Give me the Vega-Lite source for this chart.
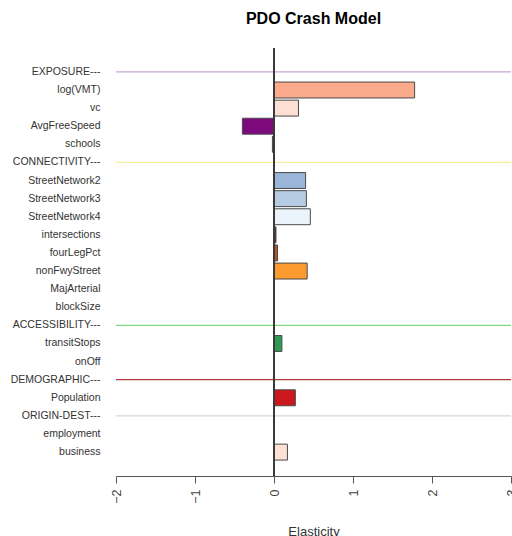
{
  "$schema": "https://vega.github.io/schema/vega-lite/v6.json",
  "width": 395,
  "height": 428,
  "autosize": {"type": "none"},
  "padding": {"left": 116, "top": 48, "right": 1, "bottom": 60},
  "background": "white",
  "config": {
    "view": {"stroke": null},
    "font": "Liberation Sans"
  },
  "title": {
    "text": "PDO Crash Model",
    "font": "Liberation Sans",
    "fontSize": 16,
    "fontWeight": "bold",
    "color": "#000000",
    "anchor": "middle",
    "baseline": "alphabetic",
    "offset": 8
  },
  "data": {
    "values": [
      {"variable": "EXPOSURE---", "elasticity": null, "kind": "header"},
      {"variable": "log(VMT)", "elasticity": 1.78, "kind": "var"},
      {"variable": "vc", "elasticity": 0.31, "kind": "var"},
      {"variable": "AvgFreeSpeed", "elasticity": -0.40, "kind": "var"},
      {"variable": "schools", "elasticity": -0.02, "kind": "var"},
      {"variable": "CONNECTIVITY---", "elasticity": null, "kind": "header"},
      {"variable": "StreetNetwork2", "elasticity": 0.40, "kind": "var"},
      {"variable": "StreetNetwork3", "elasticity": 0.41, "kind": "var"},
      {"variable": "StreetNetwork4", "elasticity": 0.46, "kind": "var"},
      {"variable": "intersections", "elasticity": 0.025, "kind": "var"},
      {"variable": "fourLegPct", "elasticity": 0.045, "kind": "var"},
      {"variable": "nonFwyStreet", "elasticity": 0.42, "kind": "var"},
      {"variable": "MajArterial", "elasticity": null, "kind": "var"},
      {"variable": "blockSize", "elasticity": null, "kind": "var"},
      {"variable": "ACCESSIBILITY---", "elasticity": null, "kind": "header"},
      {"variable": "transitStops", "elasticity": 0.10, "kind": "var"},
      {"variable": "onOff", "elasticity": null, "kind": "var"},
      {"variable": "DEMOGRAPHIC---", "elasticity": null, "kind": "header"},
      {"variable": "Population", "elasticity": 0.27, "kind": "var"},
      {"variable": "ORIGIN-DEST---", "elasticity": null, "kind": "header"},
      {"variable": "employment", "elasticity": null, "kind": "var"},
      {"variable": "business", "elasticity": 0.17, "kind": "var"}
    ]
  },
  "encoding": {
    "y": {
      "field": "variable",
      "type": "nominal",
      "scale": {
        "domain": ["EXPOSURE---", "log(VMT)", "vc", "AvgFreeSpeed", "schools", "CONNECTIVITY---", "StreetNetwork2", "StreetNetwork3", "StreetNetwork4", "intersections", "fourLegPct", "nonFwyStreet", "MajArterial", "blockSize", "ACCESSIBILITY---", "transitStops", "onOff", "DEMOGRAPHIC---", "Population", "ORIGIN-DEST---", "employment", "business"],
        "paddingInner": 0.12,
        "paddingOuter": 0.88
      },
      "axis": {
        "title": null,
        "domain": false,
        "ticks": false,
        "tickSize": 0,
        "labelPadding": 16,
        "labelFont": "Liberation Sans",
        "labelFontSize": 10.5,
        "labelColor": "#333333"
      }
    },
    "color": {
      "field": "variable",
      "type": "nominal",
      "legend": null,
      "scale": {
        "domain": ["EXPOSURE---", "CONNECTIVITY---", "ACCESSIBILITY---", "DEMOGRAPHIC---", "ORIGIN-DEST---", "log(VMT)", "vc", "AvgFreeSpeed", "schools", "StreetNetwork2", "StreetNetwork3", "StreetNetwork4", "intersections", "fourLegPct", "nonFwyStreet", "transitStops", "Population", "business"],
        "range": ["#C6A6D6", "#F2EEA0", "#7CD67C", "#B23A3A", "#D6D6D6", "#FBAB8C", "#FDE0D3", "#7D0A7D", "#444444", "#99B5D8", "#B5CCE3", "#EAF4FA", "#5A2812", "#C0501E", "#FB9A2E", "#2E9B55", "#CB181D", "#FDE0D6"]
      }
    }
  },
  "layer": [
    {
      "transform": [{"filter": "datum.kind === 'header'"}],
      "mark": {"type": "rule", "strokeWidth": 1.3},
      "encoding": {}
    },
    {
      "transform": [{"filter": "isValid(datum.elasticity)"}],
      "mark": {"type": "bar", "stroke": "#4a4a4a", "strokeWidth": 1, "opacity": 1},
      "encoding": {
        "x": {
          "field": "elasticity",
          "type": "quantitative",
          "scale": {"domain": [-2, 3], "nice": false, "zero": false},
          "axis": {
            "title": "Elasticity",
            "titleFont": "Liberation Sans",
            "titleFontSize": 13,
            "titleFontWeight": "normal",
            "titleColor": "#333333",
            "titlePadding": 22,
            "values": [-2, -1, 0, 1, 2, 3],
            "format": "d",
            "grid": false,
            "domainColor": "#555555",
            "tickColor": "#555555",
            "tickSize": 7,
            "labelAngle": 270,
            "labelPadding": 6,
            "labelFont": "Liberation Sans",
            "labelFontSize": 12.5,
            "labelColor": "#444444",
            "labelFlush": false,
            "labelOverlap": false
          }
        },
        "x2": {"datum": 0}
      }
    },
    {
      "mark": {"type": "rule", "color": "#3a3a3a", "strokeWidth": 1},
      "encoding": {
        "x": {"datum": 0, "type": "quantitative"},
        "y": null,
        "color": null
      }
    }
  ]
}
